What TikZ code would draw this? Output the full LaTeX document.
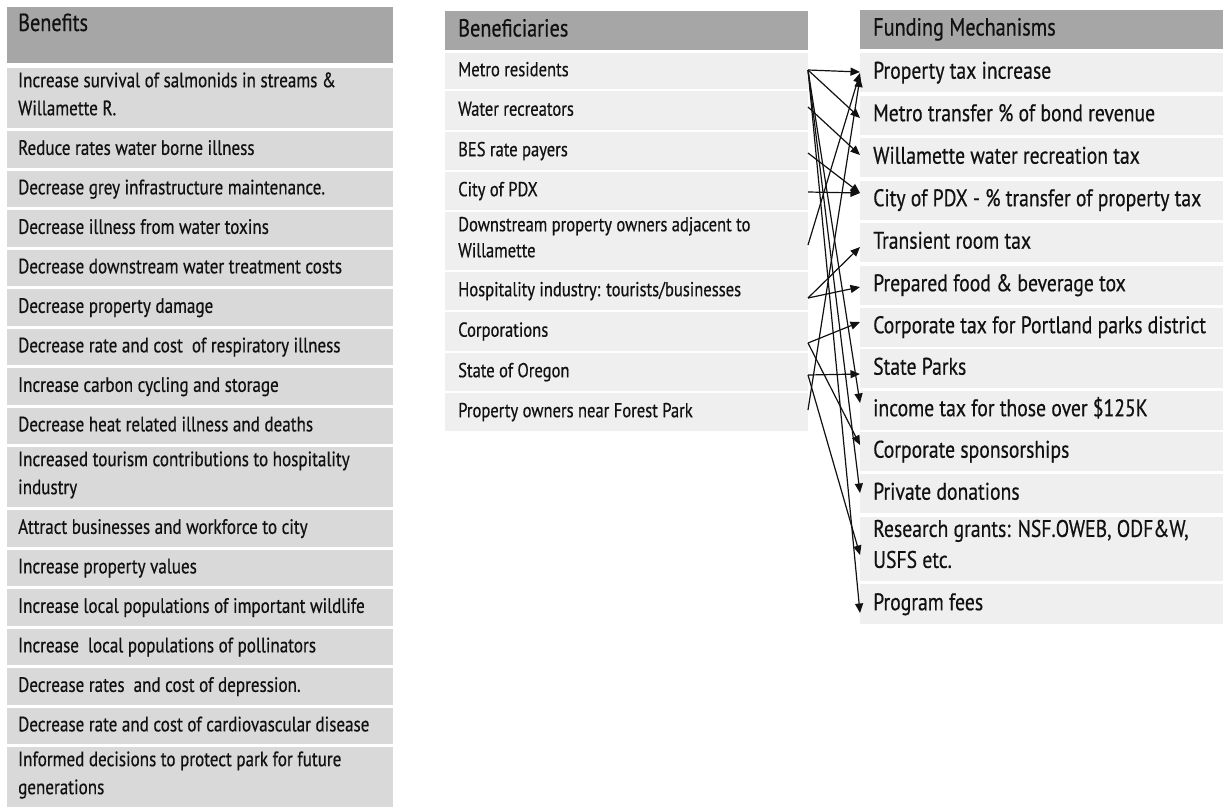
\documentclass[tikz,border=0pt]{standalone}
\usepackage{fontspec}
\setmainfont{PT Sans}[FakeStretch=0.82, FakeBold=0.5]
\usetikzlibrary{arrows.meta}

\definecolor{headgray}{HTML}{A6A6A6}
\definecolor{bengray}{HTML}{D9D9D9}
\definecolor{cellgray}{HTML}{EFEFEF}
\definecolor{ink}{HTML}{111111}

\tikzset{
  cellbox/.style={anchor=north west, inner sep=0pt, outer sep=0pt},
  headbox/.style={cellbox, fill=headgray},
  benbox/.style={cellbox, fill=bengray, minimum width=386pt},
  whobox/.style={cellbox, fill=cellgray, minimum width=363pt},
  fundbox/.style={cellbox, fill=cellgray, minimum width=363pt},
  txtbase/.style={anchor=west, inner sep=0pt, align=left, text=ink,
    execute at begin node=\strut, execute at end node=\strut},
  bentxt/.style={txtbase, xshift=11pt, font=\fontsize{20.8}{28}\selectfont},
  whotxt/.style={txtbase, xshift=13pt, font=\fontsize{20.2}{26}\selectfont},
  fundtxt/.style={txtbase, xshift=13pt, font=\fontsize{24}{31}\selectfont},
  headtxt/.style={txtbase, font=\fontsize{24.7}{30}\selectfont},
  flow/.style={draw=ink, line width=1.2pt, -{Triangle[length=9.5pt,width=8pt]}},
}

% #1 name, #2 box style, #3 text style, #4 left, #5 top, #6 height, #7 text
\newcommand\gridcell[7]{%
  \node[#2, minimum height=#6pt] (#1) at (#4,#5) {};
  \node[#3] (#1-txt) at (#1.west) {#7};
}

\begin{document}
\begin{tikzpicture}[x=1pt, y=-1pt]
\fill[white] (0,0) rectangle (1224,809);
\useasboundingbox (0,0) rectangle (1224,809);

% ---------- Benefits ----------
\node[headbox, minimum width=386pt, minimum height=56pt] (benhead) at (7,7) {};
\node[headtxt, xshift=11pt, yshift=-18pt] (benhead-txt) at (benhead.north west) {Benefits};

\gridcell{n1}{benbox}{bentxt}{7}{68}{60}{Increase survival of salmonids in streams \&\\Willamette R.}
\gridcell{n2}{benbox}{bentxt}{7}{131}{36.5}{Reduce rates water borne illness}
\gridcell{n3}{benbox}{bentxt}{7}{170.5}{36.5}{Decrease grey infrastructure maintenance.}
\gridcell{n4}{benbox}{bentxt}{7}{210}{36.5}{Decrease illness from water toxins}
\gridcell{n5}{benbox}{bentxt}{7}{249.5}{36.5}{Decrease downstream water treatment costs}
\gridcell{n6}{benbox}{bentxt}{7}{289}{36.5}{Decrease property damage}
\gridcell{n7}{benbox}{bentxt}{7}{328.5}{36.5}{Decrease rate and cost\ \ of respiratory illness}
\gridcell{n8}{benbox}{bentxt}{7}{368}{36.5}{Increase carbon cycling and storage}
\gridcell{n9}{benbox}{bentxt}{7}{407.5}{36.5}{Decrease heat related illness and deaths}
\gridcell{n10}{benbox}{bentxt}{7}{447}{60}{Increased tourism contributions to hospitality\\industry}
\gridcell{n11}{benbox}{bentxt}{7}{510}{36.5}{Attract businesses and workforce to city}
\gridcell{n12}{benbox}{bentxt}{7}{549.5}{36.5}{Increase property values}
\gridcell{n13}{benbox}{bentxt}{7}{589}{36.5}{Increase local populations of important wildlife}
\gridcell{n14}{benbox}{bentxt}{7}{628.5}{36.5}{Increase\ \ local populations of pollinators}
\gridcell{n15}{benbox}{bentxt}{7}{668}{36.5}{Decrease rates\ \ and cost of depression.}
\gridcell{n16}{benbox}{bentxt}{7}{707.5}{36.5}{Decrease rate and cost of cardiovascular disease}
\gridcell{n17}{benbox}{bentxt}{7}{747}{60}{Informed decisions to protect park for future\\generations}

% ---------- Beneficiaries ----------
\gridcell{whohead}{headbox, minimum width=363pt}{headtxt, xshift=13pt}{445}{11}{39}{Beneficiaries}
\gridcell{b1}{whobox}{whotxt}{445}{53}{36}{Metro residents}
\gridcell{b2}{whobox}{whotxt}{445}{91}{39}{Water recreators}
\gridcell{b3}{whobox}{whotxt}{445}{132}{38}{BES rate payers}
\gridcell{b4}{whobox}{whotxt}{445}{172}{38}{City of PDX}
\gridcell{b5}{whobox}{whotxt}{445}{212}{58}{Downstream property owners adjacent to\\Willamette}
\gridcell{b6}{whobox}{whotxt}{445}{272}{38}{Hospitality industry: tourists/businesses}
\gridcell{b7}{whobox}{whotxt}{445}{312}{39}{Corporations}
\gridcell{b8}{whobox}{whotxt}{445}{353}{38}{State of Oregon}
\gridcell{b9}{whobox}{whotxt}{445}{393}{38}{Property owners near Forest Park}

% ---------- Funding Mechanisms ----------
\gridcell{fundhead}{headbox, minimum width=363pt}{headtxt, xshift=13pt}{860}{10}{39}{Funding Mechanisms}
\gridcell{f1}{fundbox}{fundtxt}{860}{53}{39}{Property tax increase}
\gridcell{f2}{fundbox}{fundtxt}{860}{95.5}{39}{Metro transfer \% of bond revenue}
\gridcell{f3}{fundbox}{fundtxt}{860}{138}{39}{Willamette water recreation tax}
\gridcell{f4}{fundbox}{fundtxt}{860}{180.5}{39}{City of PDX - \% transfer of property tax}
\gridcell{f5}{fundbox}{fundtxt}{860}{223}{39}{Transient room tax}
\gridcell{f6}{fundbox}{fundtxt}{860}{265.5}{39}{Prepared food \& beverage tox}
\gridcell{f7}{fundbox}{fundtxt}{860}{307.5}{39}{Corporate tax for Portland parks district}
\gridcell{f8}{fundbox}{fundtxt}{860}{349}{39}{State Parks}
\gridcell{f9}{fundbox}{fundtxt}{860}{390.5}{39}{income tax for those over \$125K}
\gridcell{f10}{fundbox}{fundtxt}{860}{432}{39}{Corporate sponsorships}
\gridcell{f11}{fundbox}{fundtxt}{860}{474}{39}{Private donations}
\gridcell{f12}{fundbox}{fundtxt}{860}{516.5}{64}{Research grants: NSF.OWEB, ODF\&W,\\USFS etc.}
\gridcell{f13}{fundbox}{fundtxt}{860}{584}{40}{Program fees}

% ---------- who pays through which mechanism ----------
\draw[flow] ([yshift=1pt]b1.east) -- ([yshift=0.5pt]f1.west);
\draw[flow] ([yshift=1pt]b1.east) -- ([yshift=-3pt]f2.west);
\draw[flow] ([yshift=1pt]b1.east) -- ([yshift=7pt]f9.west);
\draw[flow] ([yshift=1pt]b1.east) -- ([yshift=0.5pt]f11.west);
\draw[flow] ([yshift=1pt]b1.east) -- ([yshift=-9pt]f13.west);
\draw[flow] ([yshift=3.5pt]b2.east) -- ([yshift=2.5pt]f3.west);
\draw[flow] ([yshift=-2pt]b3.east) -- ([yshift=7pt]f4.west);
\draw[flow] ([yshift=-1pt]b4.east) -- ([yshift=7pt]f4.west);
\draw[flow] ([yshift=-4pt]b5.east) -- ([yshift=-0.5pt]f1.west);
\draw[flow] ([yshift=-7pt]b6.east) -- ([yshift=-4.5pt]f5.west);
\draw[flow] ([yshift=-7pt]b6.east) -- ([yshift=-2pt]f6.west);
\draw[flow] ([yshift=-11.5pt]b7.east) -- ([yshift=5pt]f7.west);
\draw[flow] ([yshift=-11.5pt]b7.east) -- ([yshift=6.5pt]f10.west);
\draw[flow] ([yshift=-3pt]b8.east) -- ([yshift=-5.5pt]f8.west);
\draw[flow] ([yshift=-3pt]b8.east) -- ([yshift=-6.5pt]f12.west);
\draw[flow] ([yshift=2pt]b9.east) -- ([yshift=-5pt]f1.west);
\end{tikzpicture}
\end{document}
